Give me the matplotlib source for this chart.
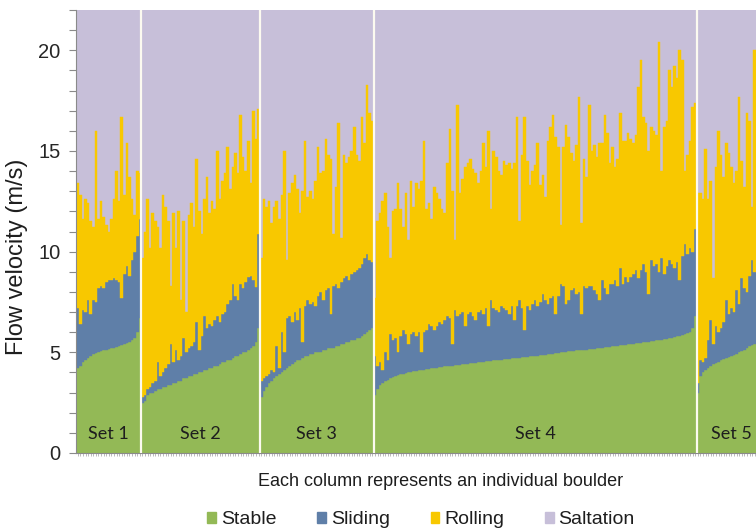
import numpy as np
import matplotlib
matplotlib.use("Agg")
import matplotlib.pyplot as plt
from matplotlib.patches import Patch

plt.rcParams['font.family'] = ['Liberation Sans', 'DejaVu Sans']

# ---------------- data (flow velocity thresholds, m/s) ----------------
set_names = ["Set 1", "Set 2", "Set 3", "Set 4", "Set 5"]
legend_labels = ["Stable", "Sliding", "Rolling", "Saltation"]

stable_1 = [4.2, 4.3, 4.5, 4.6, 4.7, 4.8, 4.9, 4.95, 5.0, 5.05, 5.1, 5.1, 5.15, 5.2, 5.2,
            5.25, 5.3, 5.35, 5.4, 5.45, 5.5, 5.6, 5.7, 6.0, 6.7]
sliding_1 = [7.2, 6.4, 7.1, 7.0, 7.6, 6.9, 7.6, 7.5, 8.2, 8.3, 8.2, 8.5, 8.6, 8.6, 8.7,
             8.6, 8.5, 7.7, 8.9, 9.3, 8.8, 9.6, 10.0, 10.8, 11.6]
rolling_1 = [13.4, 12.8, 11.6, 12.6, 12.4, 11.5, 11.2, 16.0, 11.6, 12.5, 11.7, 11.3, 11.0, 11.6, 12.6,
             14.0, 12.5, 16.7, 12.8, 15.4, 13.7, 12.6, 11.8, 14.0, 13.9]

stable_2 = [2.5, 2.6, 2.9, 3.0, 3.0, 3.1, 3.2, 3.2, 3.3, 3.3, 3.4, 3.4, 3.5, 3.5, 3.6, 3.6,
            3.7, 3.7, 3.8, 3.8, 3.9, 3.9, 4.0, 4.0, 4.1, 4.1, 4.2, 4.2, 4.3, 4.3, 4.4, 4.5,
            4.5, 4.6, 4.6, 4.7, 4.8, 4.8, 4.9, 5.0, 5.0, 5.1, 5.2, 5.3, 5.5, 6.2]
sliding_2 = [2.8, 2.9, 3.2, 3.3, 3.5, 3.6, 4.5, 3.8, 4.0, 4.2, 4.4, 5.4, 4.5, 5.1, 4.6, 4.8,
             5.7, 5.0, 5.2, 5.3, 5.5, 6.5, 5.1, 5.8, 6.8, 6.2, 6.4, 6.3, 6.6, 6.8, 6.5, 6.9,
             7.0, 7.4, 7.6, 8.4, 7.8, 7.6, 8.4, 8.2, 8.5, 8.75, 8.8, 8.6, 8.25, 10.9]
rolling_2 = [9.7, 11.0, 12.6, 10.2, 11.9, 11.5, 11.2, 10.2, 12.8, 12.2, 11.5, 8.3, 11.9, 10.2,
             12.0, 7.6, 11.5, 7.0, 11.8, 12.4, 11.2, 14.6, 12.0, 10.9, 12.6, 13.7, 11.9, 12.5,
             12.1, 15.0, 12.6, 13.5, 13.9, 15.2, 13.1, 14.2, 14.9, 13.9, 16.8, 14.7, 14.0, 15.5,
             13.4, 17.0, 15.6, 17.1]

stable_3 = [2.8, 3.1, 3.3, 3.5, 3.6, 3.7, 3.8, 3.9, 4.0, 4.1, 4.2, 4.3, 4.4, 4.5, 4.6, 4.6,
            4.7, 4.8, 4.8, 4.9, 4.9, 5.0, 5.0, 5.0, 5.1, 5.1, 5.2, 5.2, 5.2, 5.3, 5.3, 5.4,
            5.4, 5.5, 5.5, 5.6, 5.6, 5.7, 5.7, 5.8, 5.9, 6.0, 6.1, 6.2]
sliding_3 = [3.6, 3.7, 3.8, 3.9, 4.1, 4.0, 5.3, 4.2, 6.0, 5.0, 6.7, 6.8, 6.5, 7.0, 6.6, 7.2,
             5.5, 7.3, 7.6, 7.4, 7.5, 7.3, 7.8, 8.0, 7.6, 8.1, 8.2, 6.9, 8.3, 8.4, 8.2, 8.5,
             8.7, 8.8, 8.6, 8.9, 9.0, 9.1, 9.2, 9.4, 9.7, 9.9, 9.6, 9.5]
rolling_3 = [9.7, 12.6, 12.2, 12.5, 11.4, 12.2, 12.5, 11.6, 12.8, 15.0, 9.6, 12.9, 13.4, 13.8,
             13.1, 11.9, 13.0, 15.5, 12.7, 13.0, 12.6, 13.5, 15.2, 13.9, 14.0, 15.6, 14.8, 14.6,
             10.9, 13.2, 16.4, 10.7, 14.8, 14.4, 14.7, 15.0, 16.2, 14.8, 14.5, 16.7, 15.4, 18.3,
             16.9, 16.5]

stable_4 = [2.9, 3.2, 3.4, 3.5, 3.6, 3.65, 3.7, 3.75, 3.8, 3.85,
            3.9, 3.9, 3.95, 4.0, 4.0, 4.05, 4.05, 4.1, 4.1, 4.1,
            4.15, 4.15, 4.2, 4.2, 4.2, 4.25, 4.25, 4.3, 4.3, 4.3,
            4.3, 4.35, 4.35, 4.35, 4.4, 4.4, 4.4, 4.45, 4.45, 4.45,
            4.5, 4.5, 4.5, 4.55, 4.55, 4.55, 4.6, 4.6, 4.6, 4.6,
            4.65, 4.65, 4.65, 4.7, 4.7, 4.7, 4.7, 4.75, 4.75, 4.75,
            4.8, 4.8, 4.8, 4.8, 4.85, 4.85, 4.85, 4.9, 4.9, 4.9,
            4.95, 4.95, 5.0, 5.0, 5.0, 5.05, 5.05, 5.05, 5.1, 5.1,
            5.1, 5.1, 5.12, 5.15, 5.15, 5.17, 5.2, 5.2, 5.22, 5.25,
            5.25, 5.27, 5.3, 5.3, 5.32, 5.35, 5.35, 5.37, 5.4, 5.4,
            5.42, 5.45, 5.45, 5.47, 5.5, 5.5, 5.52, 5.55, 5.55, 5.6,
            5.6, 5.62, 5.65, 5.67, 5.7, 5.72, 5.75, 5.8, 5.82, 5.85,
            5.9, 5.95, 6.0, 6.2, 6.8]
sliding_4 = [4.8, 4.3, 4.5, 4.1, 5.0, 4.6, 5.9, 5.6, 5.7, 5.0,
             5.8, 6.1, 5.9, 5.4, 5.9, 6.0, 5.8, 6.0, 5.0, 6.0,
             6.1, 6.4, 6.3, 6.1, 6.3, 6.5, 6.4, 6.6, 6.8, 6.7,
             5.4, 7.1, 6.8, 6.9, 7.0, 6.3, 6.9, 7.0, 6.8, 6.6,
             7.0, 7.1, 6.9, 7.2, 6.3, 7.6, 7.2, 7.1, 7.0, 7.3,
             7.2, 7.1, 6.9, 7.3, 6.6, 7.3, 7.6, 7.2, 6.1, 7.3,
             7.1, 7.4, 7.6, 7.3, 7.5, 7.9, 7.6, 7.4, 7.7, 7.8,
             6.9, 7.8, 8.4, 8.3, 7.4, 7.6, 8.1, 8.2, 7.9, 8.0,
             6.9, 8.3, 8.2, 8.3, 8.3, 8.1, 7.9, 7.6, 8.6, 8.2,
             7.9, 8.4, 8.4, 8.6, 8.3, 9.2, 8.4, 8.75, 8.5, 8.75,
             8.9, 9.1, 8.7, 9.1, 9.4, 9.0, 7.9, 9.6, 9.3, 9.4,
             9.0, 9.7, 8.9, 9.3, 9.6, 9.4, 9.2, 9.5, 8.6, 9.8,
             10.4, 9.9, 10.2, 10.0, 11.1]
rolling_4 = [7.7, 11.5, 11.9, 12.5, 12.9, 11.2, 9.7, 12.0, 12.1, 13.4,
             12.1, 11.2, 12.9, 10.6, 13.5, 12.2, 13.4, 13.1, 13.5, 15.5,
             12.1, 12.4, 11.6, 13.2, 12.9, 12.6, 12.1, 11.9, 14.4, 16.1,
             13.0, 10.6, 17.3, 12.9, 13.6, 14.2, 14.4, 14.6, 14.1, 13.9,
             13.4, 14.0, 15.4, 14.2, 16.0, 12.1, 15.0, 14.7, 14.0, 13.8,
             14.5, 14.3, 14.4, 14.1, 14.4, 16.7, 11.5, 14.8, 16.7, 14.5,
             13.3, 14.0, 14.3, 15.4, 13.3, 13.8, 12.7, 15.5, 16.2, 16.8,
             15.7, 15.2, 11.3, 15.2, 16.3, 15.7, 14.9, 14.5, 15.3, 17.7,
             11.4, 14.6, 13.7, 17.3, 15.0, 15.3, 14.7, 15.4, 15.4, 16.8,
             15.9, 14.4, 15.2, 14.2, 14.6, 16.9, 15.5, 15.5, 15.9, 15.6,
             15.4, 15.8, 18.2, 19.5, 16.7, 16.4, 15.0, 16.2, 16.0, 15.8,
             20.4, 14.0, 16.2, 16.5, 19.0, 18.2, 19.2, 18.6, 20.0, 19.5,
             14.0, 14.8, 15.5, 17.2, 17.4]

stable_5 = [3.0, 3.8, 4.0, 4.1, 4.2, 4.3, 4.4, 4.45, 4.5, 4.6, 4.65, 4.7, 4.75, 4.8,
            4.85, 4.9, 5.0, 5.05, 5.1, 5.2, 5.3, 5.35, 5.4]
sliding_5 = [3.5, 4.6, 4.5, 4.7, 5.6, 6.6, 5.4, 6.3, 6.0, 6.2, 6.5, 7.6, 6.9, 7.2, 7.0,
             8.1, 7.4, 8.7, 8.2, 8.0, 8.8, 9.6, 9.0]
rolling_5 = [12.9, 12.9, 12.6, 15.1, 12.6, 13.5, 8.7, 14.2, 16.0, 14.8, 13.7, 15.4, 14.9,
             14.2, 13.4, 14.0, 17.7, 14.5, 13.2, 16.9, 16.5, 12.2, 20.0]

sets = [(stable_1, sliding_1, rolling_1),
        (stable_2, sliding_2, rolling_2),
        (stable_3, sliding_3, rolling_3),
        (stable_4, sliding_4, rolling_4),
        (stable_5, sliding_5, rolling_5)]

# ---------------- style ----------------
GREEN = '#93b956'
BLUE = '#5f7fa8'
YELLOW = '#f8c800'
PURPLE = '#c7bfd9'
SEP = '#fcfaf0'

fig = plt.figure(figsize=(7.56, 5.31), dpi=100)
ax = fig.add_axes([76 / 756, 1 - 453 / 531, 680 / 756, 443 / 531])
ax.set_facecolor(PURPLE)

start = 0
bounds, centers = [], []
for k, (st, sl, ro) in enumerate(sets):
    st = np.asarray(st, float)
    sl = np.asarray(sl, float)
    ro = np.asarray(ro, float)
    x = np.arange(start, start + len(st))
    ax.bar(x, st, width=1.0, color=GREEN, edgecolor=GREEN, linewidth=0.3)
    ax.bar(x, sl - st, bottom=st, width=1.0, color=BLUE, edgecolor=BLUE, linewidth=0.3)
    ax.bar(x, ro - sl, bottom=sl, width=1.0, color=YELLOW, edgecolor=YELLOW, linewidth=0.3)
    if k == len(sets) - 1:
        centers.append(start + 13)
    else:
        centers.append(start + (len(st) - 1) / 2)
    start += len(st)
    bounds.append(start - 0.5)

for b in bounds[:-1]:
    ax.axvline(b, color=SEP, lw=1.6, zorder=3)

for c, name in zip(centers, set_names):
    ax.text(c, 0.95, name, ha='center', va='center', fontsize=13,
            family=['Lato', 'DejaVu Sans'], color='#1e1e1e', zorder=4)

ax.set_xlim(-0.7, start - 0.5)
ax.set_ylim(0, 22)
ax.set_yticks([0, 5, 10, 15, 20])
ax.set_yticks(np.arange(0, 23, 1), minor=True)
ax.tick_params(axis='y', which='both', direction='out', length=5, width=0.8,
               color='#8a8a8a', labelsize=14.5, labelcolor='#262626', pad=6)
ax.set_xticks(np.arange(0, start))
ax.set_xticklabels([])
ax.tick_params(axis='x', which='both', direction='out', length=2.5, width=0.5,
               color='#a0a0a0')
for s in ['top', 'right']:
    ax.spines[s].set_visible(False)
for s in ['left', 'bottom']:
    ax.spines[s].set_color('#8a8a8a')
    ax.spines[s].set_linewidth(0.8)

fig.text(17 / 756, 1 - 257 / 531, "Flow velocity (m/s)", rotation=90,
         ha='center', va='center', fontsize=17, color='#1e1e1e')
fig.text(441 / 756, 1 - 482 / 531, "Each column represents an individual boulder",
         ha='center', va='center', fontsize=13, color='#1e1e1e')

handles = [Patch(color=GREEN), Patch(color=BLUE), Patch(color=YELLOW), Patch(color=PURPLE)]
fig.legend(handles, legend_labels, loc='center', bbox_to_anchor=(421 / 756, 1 - 520 / 531),
           ncol=4, frameon=False, fontsize=14, handlelength=0.45, handleheight=0.45,
           handletextpad=0.25, columnspacing=2.1, borderpad=0, labelcolor='#1e1e1e')

fig.savefig("out.png", dpi=100)
